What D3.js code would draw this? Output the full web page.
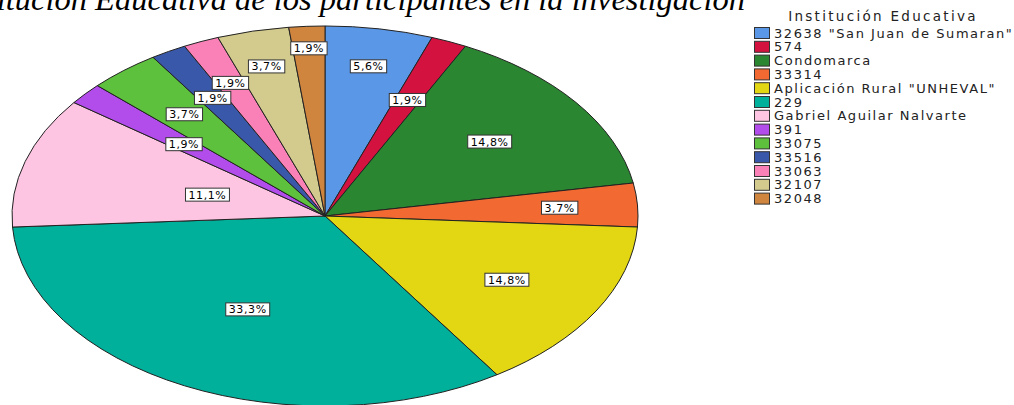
<!DOCTYPE html>
<html>
<head>
<meta charset="utf-8">
<script src="https://cdn.jsdelivr.net/npm/d3@7"></script>
<style>
  html, body { margin: 0; padding: 0; background: #fff; }
  svg { display: block; }
</style>
</head>
<body>
<svg id="chart" width="1014" height="405"></svg>
<script>
// ---- data ----
const titleText = "Institución Educativa de los participantes en la investigación";
const legendTitle = "Institución Educativa";
const categories = [
  '32638 "San Juan de Sumaran"', '574', 'Condomarca', '33314',
  'Aplicación Rural "UNHEVAL"', '229', 'Gabriel Aguilar Nalvarte', '391',
  '33075', '33516', '33063', '32107', '32048'
];
const counts = [3, 1, 8, 2, 8, 18, 6, 1, 2, 1, 1, 2, 1];
const colors = [
  '#5a97e6', '#d4123f', '#2a8630', '#f26a31',
  '#e3d612', '#00b09b', '#fdc5e1', '#b24ceb',
  '#5dc13d', '#3a58aa', '#fa80b8', '#d3ca8e', '#d0853f'
];
// label placement: fraction of radius along each slice's middle angle
const labelRadius = [0.80, 0.665, 0.656, 0.751, 0.671, 0.55, 0.392, 0.588, 0.699, 0.718, 0.763, 0.809, 0.884];

// ---- layout ----
const svg = d3.select('#chart');
const cx = 325, cy = 216, rx = 313, ry = 190, R = 100;
const sx = rx / R, sy = ry / R;
const total = d3.sum(counts);
const fmt = v => d3.format('.1f')(v).replace('.', ',') + '%';

// title (cut at the top like the reference)
svg.append('text')
  .attr('x', 745).attr('y', 10)
  .attr('text-anchor', 'end')
  .style('font-family', '"Liberation Serif", "Times New Roman", serif')
  .style('font-style', 'italic')
  .style('font-size', '32.5px')
  .attr('fill', '#000')
  .text(titleText);

const pie = d3.pie().sort(null).value(d => d)(counts);
const arc = d3.arc().innerRadius(0).outerRadius(R);

const g = svg.append('g').attr('transform', `translate(${cx},${cy}) scale(${sx},${sy})`);
g.selectAll('path').data(pie).enter().append('path')
  .attr('d', arc)
  .attr('fill', (d, i) => colors[i])
  .attr('stroke', '#222')
  .attr('stroke-width', 1)
  .attr('vector-effect', 'non-scaling-stroke');

// labels
const lg = svg.append('g');
pie.forEach((d, i) => {
  const f = labelRadius[i] * R;
  const c = d3.arc().innerRadius(f).outerRadius(f).centroid(d);
  const x = cx + c[0] * sx, y = cy + c[1] * sy;
  const t = lg.append('text')
    .attr('x', x).attr('y', y + 4)
    .attr('text-anchor', 'middle')
    .style('font-family', '"DejaVu Sans", Arial, sans-serif')
    .style('font-size', '11px')
    .style('letter-spacing', '0.6px')
    .attr('fill', '#000')
    .text(fmt(counts[i] / total * 100));
  const bb = t.node().getBBox();
  lg.insert('rect', () => t.node())
    .attr('x', x - bb.width / 2 - 3)
    .attr('y', y - 6.5)
    .attr('width', bb.width + 6)
    .attr('height', 13)
    .attr('fill', '#fff')
    .attr('stroke', '#333')
    .attr('stroke-width', 1);
});

// legend
const legX = 754, legY0 = 33, legStep = 13.8;
svg.append('text')
  .attr('x', 883).attr('y', 21)
  .attr('text-anchor', 'middle')
  .style('font-family', '"DejaVu Sans", Arial, sans-serif')
  .style('font-size', '13.5px')
  .style('letter-spacing', '2.3px')
  .attr('fill', '#222')
  .text(legendTitle);

const items = svg.append('g').selectAll('g').data(categories).enter().append('g')
  .attr('transform', (d, i) => `translate(${legX},${legY0 + i * legStep})`);
items.append('rect')
  .attr('x', 0.5).attr('y', -5.5)
  .attr('width', 15).attr('height', 11)
  .attr('fill', (d, i) => colors[i])
  .attr('stroke', '#333').attr('stroke-width', 1);
items.append('text')
  .attr('x', 20).attr('y', 4.5)
  .style('font-family', '"DejaVu Sans", Arial, sans-serif')
  .style('font-size', '13px')
  .style('letter-spacing', '1.55px')
  .attr('fill', '#222')
  .text(d => d);
</script>
</body>
</html>
